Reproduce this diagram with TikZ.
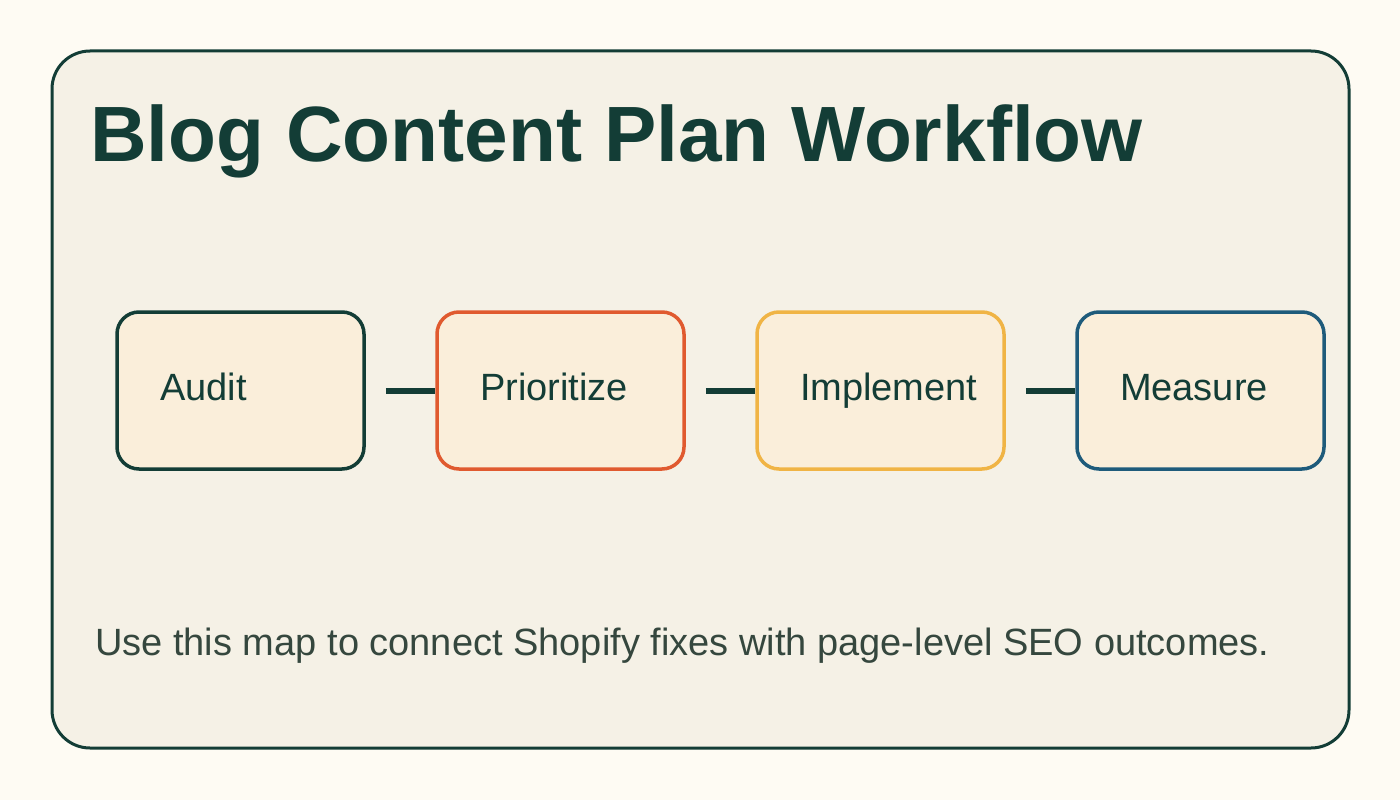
\documentclass[tikz,border=0pt]{standalone}
\usepackage{fontspec}
\setmainfont{Liberation Sans}
\definecolor{pagebg}{HTML}{FEFBF3}
\definecolor{panel}{HTML}{F5F1E6}
\definecolor{dark}{HTML}{133D36}
\definecolor{boxfill}{HTML}{FAEEDA}
\definecolor{corange}{HTML}{E05A2F}
\definecolor{cyellow}{HTML}{F0B445}
\definecolor{cblue}{HTML}{1E5B7B}
\definecolor{subtext}{HTML}{35473E}
\tikzset{
  stepbox/.style={draw, fill=boxfill, line width=3.5pt, rounded corners=22pt,
    minimum width=247pt, minimum height=157pt, text width=161pt, inner xsep=43pt,
    inner ysep=0pt, align=left, text height=27pt, text depth=8pt,
    text=dark, font=\fontsize{38}{46}\selectfont},
  link/.style={draw=dark, line width=6pt},
}
\begin{document}
\begin{tikzpicture}[x=1pt,y=-1pt]
\useasboundingbox (0,0) rectangle (1400,800);
\fill[pagebg] (0,0) rectangle (1400,800);
\draw[dark, fill=panel, line width=3pt, rounded corners=38pt] (52,51) rectangle (1349,748);
\node[anchor=base west, inner sep=0pt, text=dark, font=\bfseries\fontsize{78.4}{90}\selectfont] (title) at (90,161) {Blog Content Plan Workflow};
\node[stepbox, draw=dark] (a) at (240.5,390.5) {Audit};
\node[stepbox, draw=corange] (b) at (560.5,390.5) {Prioritize};
\node[stepbox, draw=cyellow] (c) at (880.5,390.5) {Implement};
\node[stepbox, draw=cblue] (d) at (1200.5,390.5) {Measure};
\coordinate (c1) at ([xshift=20pt]a.east);
\coordinate (c2) at ([xshift=20pt]b.east);
\coordinate (c3) at ([xshift=20pt]c.east);
\draw[link] (c1) -- (b.west);
\draw[link] (c2) -- (c.west);
\draw[link] (c3) -- (d.west);
\node[anchor=base west, inner sep=0pt, text=subtext, font=\fontsize{38}{46}\selectfont] (sub) at (95,655) {Use this map to connect Shopify fixes with page-level SEO outcomes.};
\end{tikzpicture}
\end{document}
